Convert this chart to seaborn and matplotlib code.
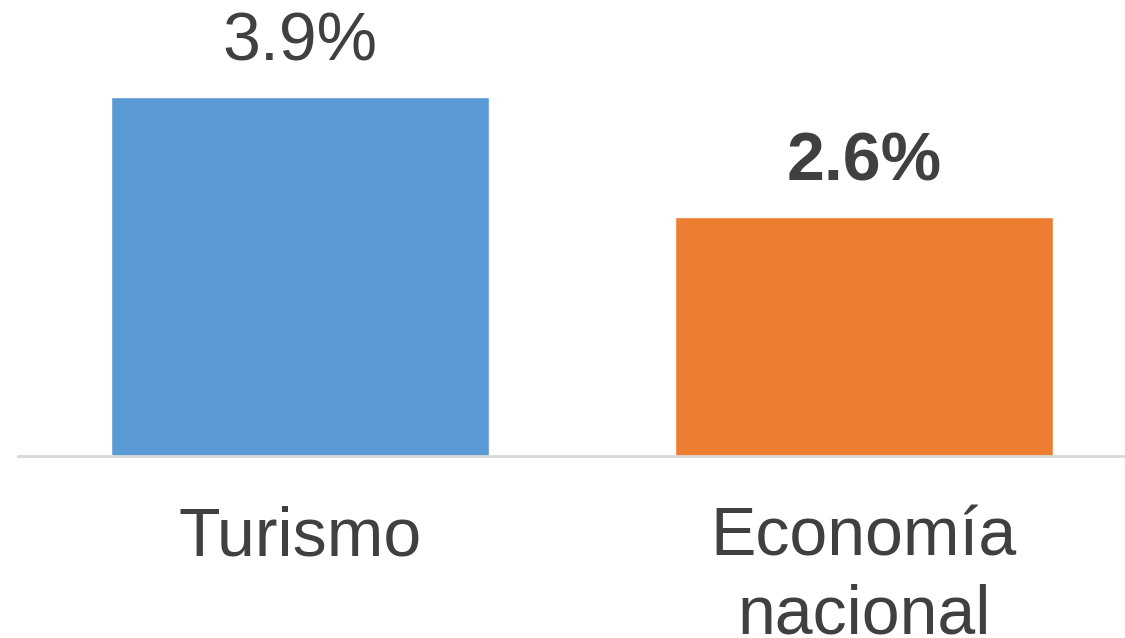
import matplotlib
matplotlib.use('Agg')
import matplotlib.pyplot as plt
import seaborn as sns
import pandas as pd

categories = ['Turismo', 'Economía\nnacional']
values = [3.9, 2.6]
labels = ['3.9%', '2.6%']
colors = ['#5B9BD5', '#ED7D31']

sns.set_style('white')
plt.rcParams['font.family'] = ['Liberation Sans', 'DejaVu Sans']

df = pd.DataFrame({'categoria': categories, 'valor': values})

fig = plt.figure(figsize=(11.25, 6.38), dpi=100)
ax = fig.add_axes([18 / 1125, (638 - 456) / 638, 1107 / 1125, 456 / 638])
sns.barplot(data=df, x='categoria', y='valor', hue='categoria', palette=colors,
            width=0.67, saturation=1, legend=False, ax=ax)

ax.set_xlim(-0.5, 1.463)
ax.set_ylim(0, 456 / 92.0)

# labels above bars, first normal, second bold
for i, (v, lab) in enumerate(zip(values, labels)):
    ax.annotate(lab, xy=(i, v), xytext=(0, 16), textcoords='offset points',
                ha='center', va='bottom', fontsize=49, color='#404040',
                fontweight='bold' if i == 1 else 'normal')

# axis formatting
for side in ['top', 'right', 'left']:
    ax.spines[side].set_visible(False)
ax.spines['bottom'].set_color('#D9D9D9')
ax.spines['bottom'].set_linewidth(2)
ax.set_yticks([])
ax.set_xlabel('')
ax.set_ylabel('')
ax.tick_params(axis='x', length=0, pad=36, labelsize=49, labelcolor='#404040')
for t in ax.get_xticklabels():
    t.set_linespacing(1.27)

fig.savefig('out.png', dpi=100)
